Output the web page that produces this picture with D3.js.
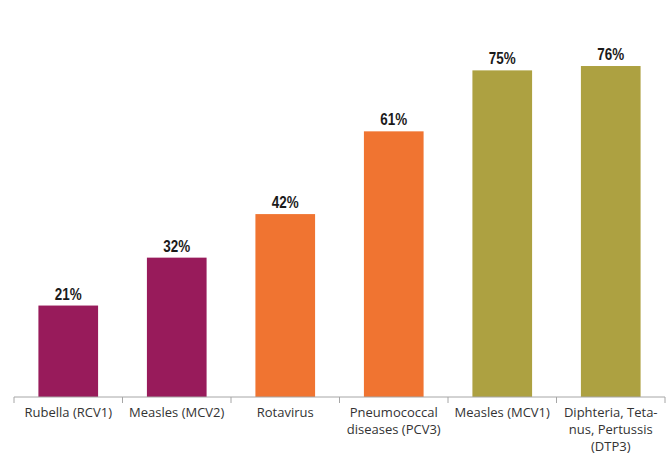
<!DOCTYPE html>
<html>
<head>
<meta charset="utf-8">
<script src="https://cdn.jsdelivr.net/npm/d3@7"></script>
<style>
  body { margin: 0; background: #fff; }
  .axis path, .axis line { stroke: #a6a6a6; }
  .axis text { font-family: "Open Sans", sans-serif; font-size: 13px; fill: #333; }
  .value { font-family: "Liberation Sans Narrow", "Liberation Sans", Arial, sans-serif; font-weight: bold; font-size: 16px; fill: #1a1a1a; }
</style>
</head>
<body>
<div id="chart"></div>
<script>
var categories = [
  "Rubella (RCV1)",
  "Measles (MCV2)",
  "Rotavirus",
  "Pneumococcal\ndiseases (PCV3)",
  "Measles (MCV1)",
  "Diphteria, Teta-\nnus, Pertussis\n(DTP3)"
];
var values = [21, 32, 42, 61, 75, 76];
var groups = ["a", "a", "b", "b", "c", "c"];

var width = 668,
  height = 455,
  margin = { top: 0, right: 3, bottom: 58, left: 14 };

var color = d3.scaleOrdinal()
  .domain(["a", "b", "c"])
  .range(["#981b5b", "#f07431", "#ada141"]);

var svg = d3.select("#chart").append("svg")
  .attr("width", width)
  .attr("height", height);

var x = d3.scaleBand()
  .domain(categories)
  .range([margin.left, width - margin.right])
  .paddingInner(0.45)
  .paddingOuter(0.225);

var baseY = height - margin.bottom;
var y = d3.scaleLinear()
  .domain([0, 100])
  .range([baseY, baseY - 435.5]);

var data = categories.map(function(c, i) {
  return { cat: c, value: values[i], group: groups[i] };
});

svg.selectAll("rect.bar")
  .data(data).enter()
  .append("rect")
  .attr("class", "bar")
  .attr("x", function(d) { return x(d.cat); })
  .attr("width", x.bandwidth())
  .attr("y", function(d) { return y(d.value); })
  .attr("height", function(d) { return baseY - y(d.value); })
  .attr("fill", function(d) { return color(d.group); });

// narrow bold labels: squeeze horizontally since no narrow font is installed
svg.selectAll("text.value")
  .data(data).enter()
  .append("text")
  .attr("class", "value")
  .attr("text-anchor", "middle")
  .attr("transform", function(d) {
    return "translate(" + (x(d.cat) + x.bandwidth() / 2) + "," + (y(d.value) - 6) + ") scale(0.84,1)";
  })
  .text(function(d) { return d.value + "%"; });

// axis with ticks on band edges
var axisG = svg.append("g")
  .attr("class", "axis")
  .attr("transform", "translate(0," + baseY + ")");

axisG.append("line")
  .attr("x1", margin.left).attr("x2", width - margin.right)
  .attr("y1", 0).attr("y2", 0);

var edges = d3.range(categories.length + 1).map(function(i) {
  return margin.left + i * (width - margin.left - margin.right) / categories.length;
});
axisG.selectAll("line.tick")
  .data(edges).enter()
  .append("line")
  .attr("class", "tick")
  .attr("x1", function(d) { return d; })
  .attr("x2", function(d) { return d; })
  .attr("y1", 0).attr("y2", 6);

axisG.selectAll("text.cat")
  .data(categories).enter()
  .append("text")
  .attr("class", "cat")
  .attr("text-anchor", "middle")
  .attr("x", function(d) { return x(d) + x.bandwidth() / 2; })
  .attr("y", 20)
  .each(function(d) {
    var t = d3.select(this);
    d.split("\n").forEach(function(line, i) {
      t.append("tspan")
        .attr("x", x(d) + x.bandwidth() / 2)
        .attr("dy", i === 0 ? 0 : 17)
        .text(line);
    });
  });
</script>
</body>
</html>
